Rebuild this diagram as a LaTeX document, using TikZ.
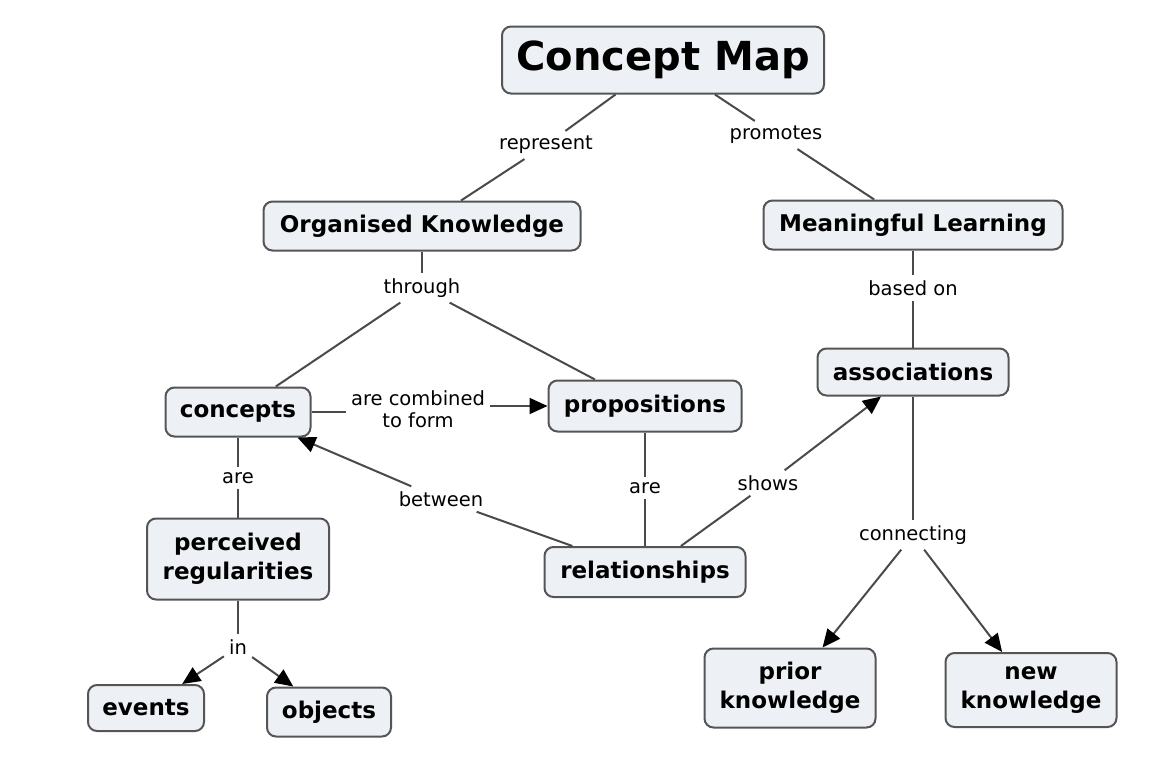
\documentclass[tikz,border=0pt]{standalone}
\usepackage{fontspec}
\setmainfont{DejaVu Sans}
\usetikzlibrary{arrows.meta}
\definecolor{boxfill}{HTML}{EDF1F5}
\definecolor{boxline}{HTML}{555555}
\definecolor{conn}{HTML}{4A4A4A}
\tikzset{
  box/.style={draw=boxline, line width=2pt, fill=boxfill, rounded corners=9pt,
    font=\fontsize{23}{29}\selectfont\bfseries, align=center, inner sep=0pt, text=black},
  lbl/.style={font=\fontsize{19.5}{24}\selectfont, align=center, inner sep=5pt, text=black},
  link/.style={draw=conn, line width=2pt},
  arr/.style={link, -{Triangle[length=18pt,width=16pt,color=black,fill=black]}},
}
\begin{document}
\begin{tikzpicture}[x=1pt,y=-1pt]
\useasboundingbox (0,0) rectangle (1160,764);
\fill[white] (0,0) rectangle (1160,764);
% nodes
\node[box, minimum width=322pt, minimum height=67pt, font=\fontsize{40}{48}\selectfont\bfseries] (cm) at (663,60) {Concept Map};
\node[box, minimum width=317pt, minimum height=49pt] (ok) at (422,226) {Organised Knowledge};
\node[box, minimum width=299pt, minimum height=49pt] (ml) at (913,225) {Meaningful Learning};
\node[box, minimum width=145pt, minimum height=49pt] (co) at (238,412) {concepts};
\node[box, minimum width=193pt, minimum height=51pt] (pr) at (645,406) {propositions};
\node[box, minimum width=191pt, minimum height=47pt] (as) at (913,372) {associations};
\node[box, minimum width=182pt, minimum height=81pt] (pe) at (238,559) {perceived\\regularities};
\node[box, minimum width=201pt, minimum height=50pt] (re) at (645,572) {relationships};
\node[box, minimum width=116pt, minimum height=46pt] (ev) at (146,708) {events};
\node[box, minimum width=124pt, minimum height=49pt] (ob) at (329,712) {objects};
\node[box, minimum width=171pt, minimum height=79pt] (pk) at (790,688) {prior\\knowledge};
\node[box, minimum width=171pt, minimum height=74pt] (nk) at (1031,690) {new\\knowledge};
% labels
\node[lbl] (l1) at (546,145) {represent};
\node[lbl] (l2) at (776,135) {promotes};
\node[lbl] (l3) at (422,288) {through};
\node[lbl] (l4) at (913,288) {based on};
\node[lbl, font=\fontsize{19.5}{22}\selectfont] (l5) at (418,409) {are combined\\to form};
\node[lbl] (l6) at (238,478) {are};
\node[lbl] (l7) at (441,499) {between};
\node[lbl] (l8) at (645,488) {are};
\node[lbl] (l9) at (768,483) {shows};
\node[lbl] (l10) at (238,647) {in};
\node[lbl] (l11) at (913,535) {connecting};
% connectors
\draw[link] (cm) -- (l1);
\draw[link] (l1) -- (ok);
\draw[link] (cm) -- (l2);
\draw[link] (l2) -- (ml);
\draw[link] (ok) -- (l3);
\draw[link] (l3) -- (co);
\draw[link] (l3) -- (pr);
\draw[link] (ml) -- (l4);
\draw[link] (l4) -- (as);
\draw[link] (co.east) -- (l5.west |- co.east);
\draw[arr] (l5.east |- pr.west) -- (pr.west);
\draw[link] (co) -- (l6);
\draw[link] (l6) -- (pe);
\draw[link] (re) -- (l7);
\draw[arr] (l7) -- (co);
\draw[link] (pr) -- (l8);
\draw[link] (l8) -- (re);
\draw[link] (re) -- (l9);
\draw[arr] (l9) -- (as);
\draw[link] (pe) -- (l10);
\draw[arr] (l10) -- (ev);
\draw[arr] (l10) -- (ob);
\draw[link] (as) -- (l11);
\draw[arr] (l11) -- (pk);
\draw[arr] (l11) -- (nk);
\end{tikzpicture}
\end{document}
